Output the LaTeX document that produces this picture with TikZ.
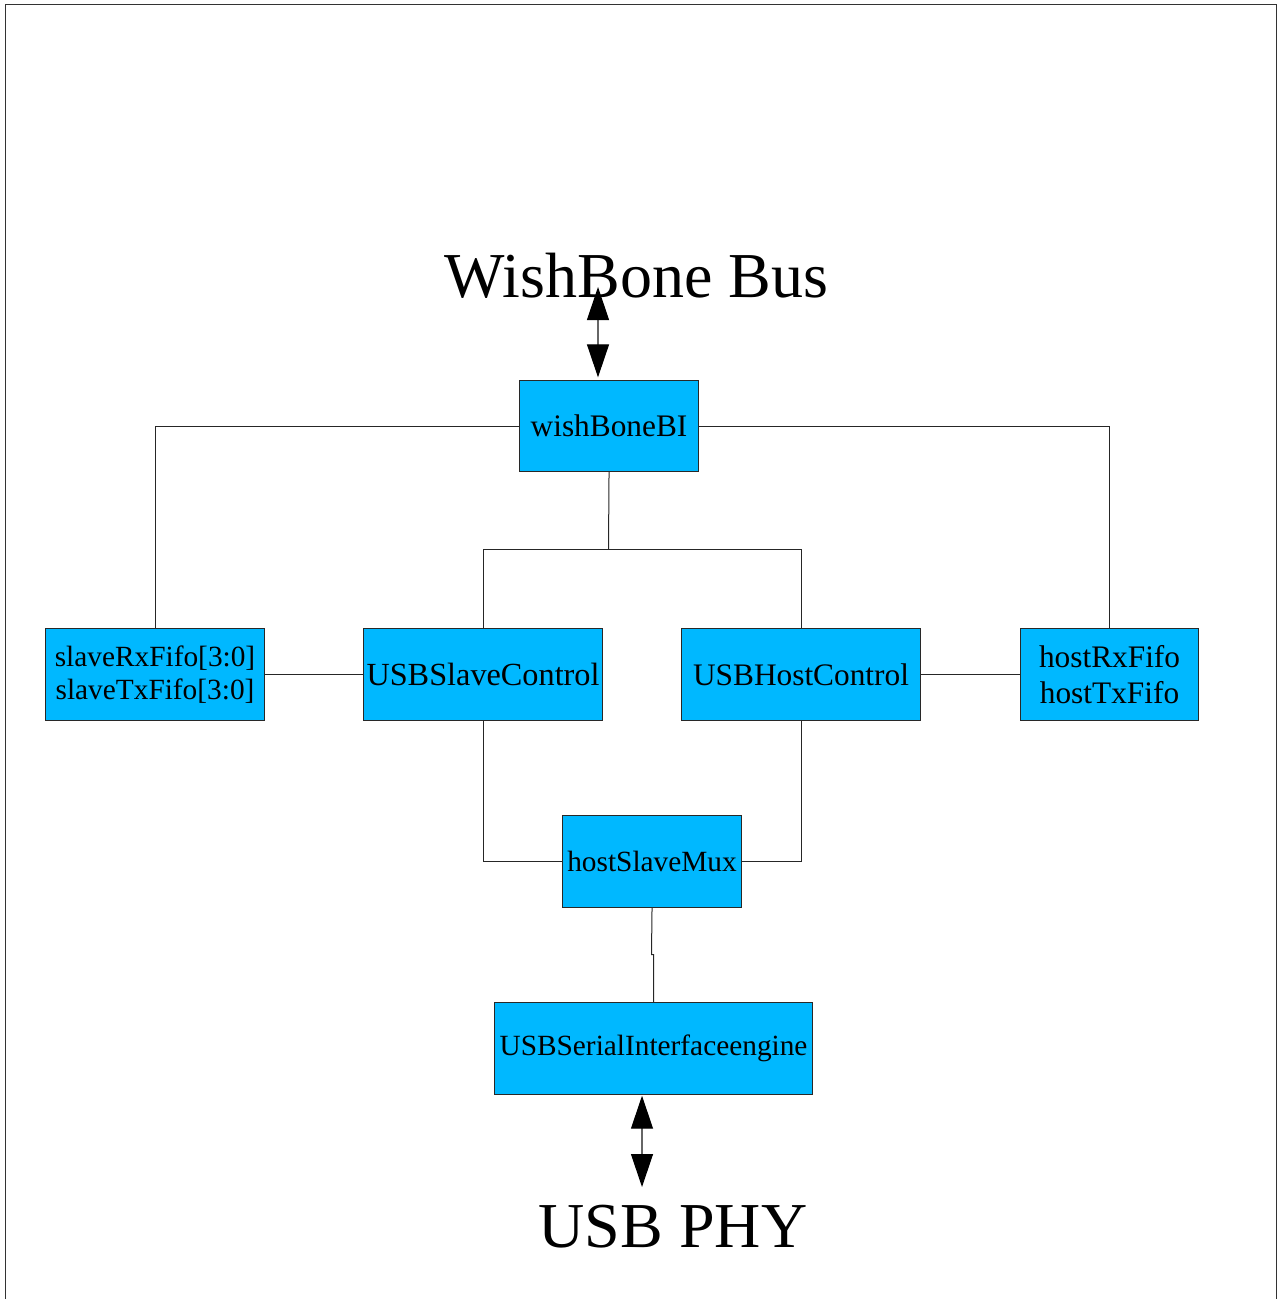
\documentclass[tikz,border=0pt]{standalone}
\usepackage{fontspec}
\setmainfont{Liberation Serif}
\usetikzlibrary{arrows.meta}
\definecolor{boxfill}{RGB}{0,184,255}
\definecolor{edgecol}{RGB}{40,40,40}
\begin{document}
\begin{tikzpicture}[x=0.75pt,y=-0.75pt,
  blk/.style={draw=edgecol, fill=boxfill, line width=0.8pt, inner sep=0pt, align=center, anchor=north west},
  wire/.style={draw=black!85, line width=0.75pt},
  dbl/.style={draw=black!60, line width=0.9pt, {Triangle[length=24.75pt,width=16.5pt,color=black]}-{Triangle[length=24.75pt,width=16.5pt,color=black]}},
  big/.style={inner sep=0pt, anchor=base, font=\fontsize{48}{50}\selectfont}]
\useasboundingbox (0,0) rectangle (1282,1299);
% frame
\draw[line width=1pt, draw=black!80] (5.5,1299) -- (5.5,4.5) -- (1276.5,4.5) -- (1276.5,1299);
% blocks
\node[blk, minimum width=179*0.75pt, minimum height=91*0.75pt, font=\fontsize{23.5}{26}\selectfont] (wb) at (519,380) {wishBoneBI};
\node[blk, minimum width=219*0.75pt, minimum height=92*0.75pt, font=\fontsize{22}{25}\selectfont] (sfifo) at (45,628) {slaveRxFifo[3:0]\\slaveTxFifo[3:0]};
\node[blk, minimum width=239*0.75pt, minimum height=92*0.75pt, font=\fontsize{24.2}{26}\selectfont] (sctl) at (363,628) {USBSlaveControl};
\node[blk, minimum width=239*0.75pt, minimum height=92*0.75pt, font=\fontsize{23.5}{26}\selectfont] (hctl) at (681,628) {USBHostControl};
\node[blk, minimum width=178*0.75pt, minimum height=92*0.75pt, font=\fontsize{23.5}{27}\selectfont] (hfifo) at (1020,628) {hostRxFifo\\hostTxFifo};
\node[blk, minimum width=179*0.75pt, minimum height=92*0.75pt, font=\fontsize{22}{25}\selectfont] (mux) at (562,815) {hostSlaveMux};
\node[blk, minimum width=318*0.75pt, minimum height=92*0.75pt, font=\fontsize{22}{25}\selectfont] (sie) at (494,1002) {USBSerialInterfaceengine};
% labels
\node[big] (bus) at (636.5,297) {WishBone Bus};
\node[big] (phy) at (673,1247) {USB PHY};
% connectors
\coordinate (split) at (608.5,549.5);
\draw[wire] (wb.south) -- (split);
\draw[wire] (wb.west) -| (sfifo.north);
\draw[wire] (wb.east) -| (hfifo.north);
\draw[wire] (split) -| (sctl.north);
\draw[wire] (split) -| (hctl.north);
\draw[wire] (sfifo.east) -- (sctl.west);
\draw[wire] (hctl.east) -- (hfifo.west);
\draw[wire] (sctl.south) |- (mux.west);
\draw[wire] (hctl.south) |- (mux.east);
\coordinate (jog) at (651.5,954.5);
\draw[wire] (mux.south) -- (jog) -| (sie.north);
% bus arrows
\coordinate (wbtip) at (598,287);
\draw[dbl, shorten >=2pt] (wbtip) -- (wbtip |- wb.north);
\coordinate (phytip) at (642,1187);
\draw[dbl, shorten <=0.5pt] (sie.south -| phytip) -- (phytip);
\end{tikzpicture}
\end{document}
